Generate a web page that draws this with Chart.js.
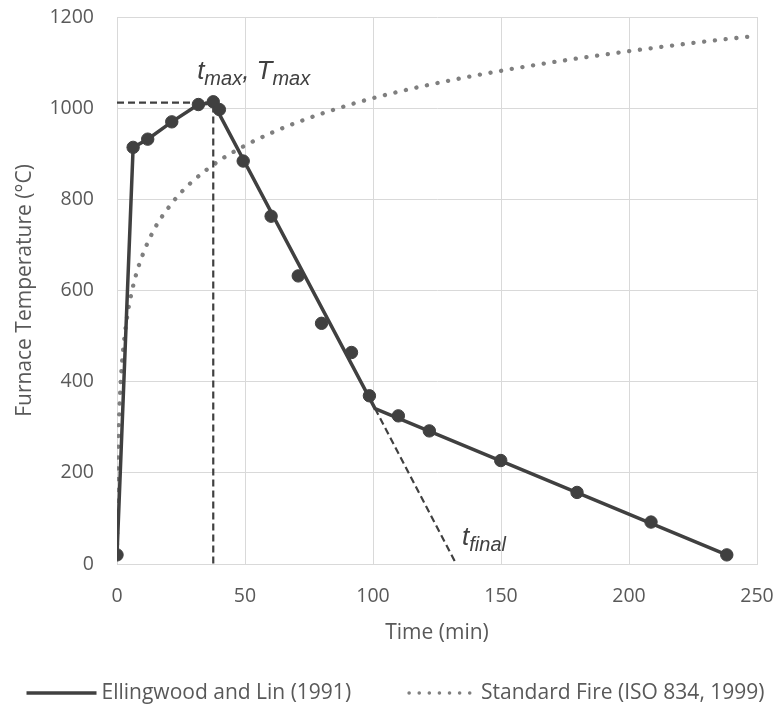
<!DOCTYPE html>
<html>
<head>
<meta charset="utf-8">
<script src="https://cdn.jsdelivr.net/npm/chart.js@4.4.1/dist/chart.umd.min.js"></script>
<style>
  html, body { margin: 0; padding: 0; background: #fff; }
  #wrap { width: 775px; height: 705px; position: relative; }
</style>
</head>
<body>
<div id="wrap"><canvas id="chart"></canvas></div>
<script>
// Furnace temperature vs time: Ellingwood & Lin (1991) model + ISO 834 standard fire.

const LINE_DARK = '#404040';
const ISO_GREY = '#7f7f7f';
const TEXT_COLOR = '#595959';
const GRID_COLOR = '#d9d9d9';

// Measured points (markers)
const markerTimes = [0, 6.3, 12, 21.4, 31.8, 37.6, 40, 49.3, 60.2, 70.8, 79.9, 91.6, 98.6, 109.9, 122, 149.9, 179.7, 208.6, 238.2];
const markerTemps = [20, 914, 932, 970, 1008, 1014, 997, 884, 763, 632, 528, 464, 369, 325, 292, 227, 157, 92, 20];

// Model polyline (solid)
const modelTimes = [0, 6.3, 12, 21.4, 31.8, 37.6, 100.8, 238.2];
const modelTemps = [20, 914, 932, 970, 1008, 1012, 341, 20];

// Standard fire curve
const isoTimes = [0, 0.5, 1, 1.5, 2, 3, 4, 5, 7, 10, 15, 20, 25, 30, 40, 50, 60, 70, 80, 90, 100, 120, 150, 175, 200, 225, 250];
const isoTemps = [20, 261, 349, 404, 445, 502, 544, 576, 626, 678, 739, 781, 815, 842, 885, 918, 945, 968, 988, 1006, 1022, 1049, 1082, 1105, 1125, 1143, 1159];

// Dashed guide lines: peak (t_max, T_max) and extrapolated decay to t_final
const peakTime = 37.6;
const peakTemp = 1012;
const kinkTime = 100.8;
const kinkTemp = 341;
const finalTime = 132.5;

const legendLabels = ['Ellingwood and Lin (1991)', 'Standard Fire (ISO 834, 1999)'];

function toPoints(xs, ys) {
  return xs.map((x, i) => ({ x, y: ys[i] }));
}

const guidePoints = [
  { x: 0, y: peakTemp }, { x: peakTime, y: peakTemp }, { x: peakTime, y: 0 },
  { x: null, y: null },
  { x: kinkTime, y: kinkTemp }, { x: finalTime, y: 0 },
];

// Italic labels with subscripts, anchored in data coordinates.
const annotationPlugin = {
  id: 'subLabels',
  afterDatasetsDraw(chart) {
    const { ctx, scales: { x, y } } = chart;
    const mainFont = 'italic 26px "Liberation Sans", Arial, sans-serif';
    const subFont = 'italic 20px "Liberation Sans", Arial, sans-serif';

    function drawParts(px, py, parts) {
      let cx = px;
      ctx.save();
      ctx.fillStyle = LINE_DARK;
      ctx.textBaseline = 'alphabetic';
      ctx.textAlign = 'left';
      parts.forEach(([text, sub]) => {
        ctx.font = sub ? subFont : mainFont;
        ctx.fillText(text, cx, py + (sub ? 6 : 0));
        cx += ctx.measureText(text).width;
      });
      ctx.restore();
    }

    drawParts(x.getPixelForValue(31.3), y.getPixelForValue(1064),
      [['t', false], ['max', true], [', T', false], ['max', true]]);
    drawParts(x.getPixelForValue(134.8), y.getPixelForValue(42),
      [['t', false], ['final', true]]);
  },
};

// Legend drawn by hand so the line samples sit tight against the text, as in the original.
const legendPlugin = {
  id: 'customLegend',
  afterDraw(chart) {
    const { ctx } = chart;
    const sampleW = 70, textGap = 5, itemGap = 55, yMid = 693;
    ctx.save();
    ctx.font = '21px "Open Sans", sans-serif';
    const w1 = ctx.measureText(legendLabels[0]).width;
    const w2 = ctx.measureText(legendLabels[1]).width;
    const total = sampleW + textGap + w1 + itemGap + sampleW + textGap + w2;
    let cx = (chart.width - total) / 2 + 8;

    ctx.strokeStyle = LINE_DARK;
    ctx.lineWidth = 3.5;
    ctx.beginPath();
    ctx.moveTo(cx, yMid);
    ctx.lineTo(cx + sampleW, yMid);
    ctx.stroke();
    cx += sampleW + textGap;
    ctx.fillStyle = TEXT_COLOR;
    ctx.textBaseline = 'middle';
    ctx.fillText(legendLabels[0], cx, yMid);
    cx += w1 + itemGap;

    ctx.strokeStyle = ISO_GREY;
    ctx.lineWidth = 3.5;
    ctx.lineCap = 'round';
    ctx.setLineDash([0.1, 10]);
    ctx.beginPath();
    ctx.moveTo(cx + 3, yMid);
    ctx.lineTo(cx + sampleW, yMid);
    ctx.stroke();
    ctx.setLineDash([]);
    cx += sampleW + textGap;
    ctx.fillText(legendLabels[1], cx, yMid);
    ctx.restore();
  },
};

const tickFont = { family: 'Open Sans', size: 19.5 };
const titleFont = { family: 'Open Sans', size: 21 };

new Chart(document.getElementById('chart'), {
  type: 'line',
  data: {
    datasets: [
      {
        label: 'markers',
        data: toPoints(markerTimes, markerTemps),
        showLine: false,
        pointRadius: 6.2,
        pointBackgroundColor: LINE_DARK,
        pointBorderColor: LINE_DARK,
        pointBorderWidth: 1,
      },
      {
        label: legendLabels[0],
        data: toPoints(modelTimes, modelTemps),
        borderColor: LINE_DARK,
        borderWidth: 3.5,
        pointRadius: 0,
        tension: 0,
      },
      {
        label: 'guides',
        data: guidePoints,
        borderColor: LINE_DARK,
        borderWidth: 2.2,
        borderDash: [7, 4],
        pointRadius: 0,
        spanGaps: false,
      },
      {
        label: legendLabels[1],
        data: toPoints(isoTimes, isoTemps),
        borderColor: ISO_GREY,
        borderWidth: 4.3,
        borderDash: [0.1, 10.7],
        borderCapStyle: 'round',
        cubicInterpolationMode: 'monotone',
        pointRadius: 0,
      },
    ],
  },
  options: {
    responsive: true,
    maintainAspectRatio: false,
    animation: false,
    layout: { padding: { top: 17, right: 18, bottom: 0, left: 0 } },
    plugins: {
      legend: { display: false },
      tooltip: { enabled: false },
    },
    scales: {
      x: {
        type: 'linear',
        min: 0,
        max: 250,
        afterFit: (scale) => {
          scale.height = 141;
          scale.paddingLeft = 0;
          scale.paddingRight = 0;
        },
        grid: { color: GRID_COLOR, drawTicks: false },
        border: { color: GRID_COLOR },
        ticks: { stepSize: 50, color: TEXT_COLOR, padding: 21, font: tickFont, callback: (v) => String(v) },
        title: {
          display: true,
          text: 'Time (min)',
          color: TEXT_COLOR,
          font: titleFont,
          padding: { top: 0, bottom: 59 },
        },
      },
      y: {
        min: 0,
        max: 1200,
        afterFit: (scale) => {
          scale.width = 117;
          scale.paddingTop = 0;
          scale.paddingBottom = 0;
        },
        grid: { color: GRID_COLOR, drawTicks: false },
        border: { color: GRID_COLOR },
        ticks: { stepSize: 200, color: TEXT_COLOR, padding: 23, font: tickFont, callback: (v) => String(v) },
        title: {
          display: true,
          text: 'Furnace Temperature (°C)',
          color: TEXT_COLOR,
          font: titleFont,
          padding: { top: 12, bottom: 0 },
        },
      },
    },
  },
  plugins: [annotationPlugin, legendPlugin],
});
</script>
</body>
</html>
